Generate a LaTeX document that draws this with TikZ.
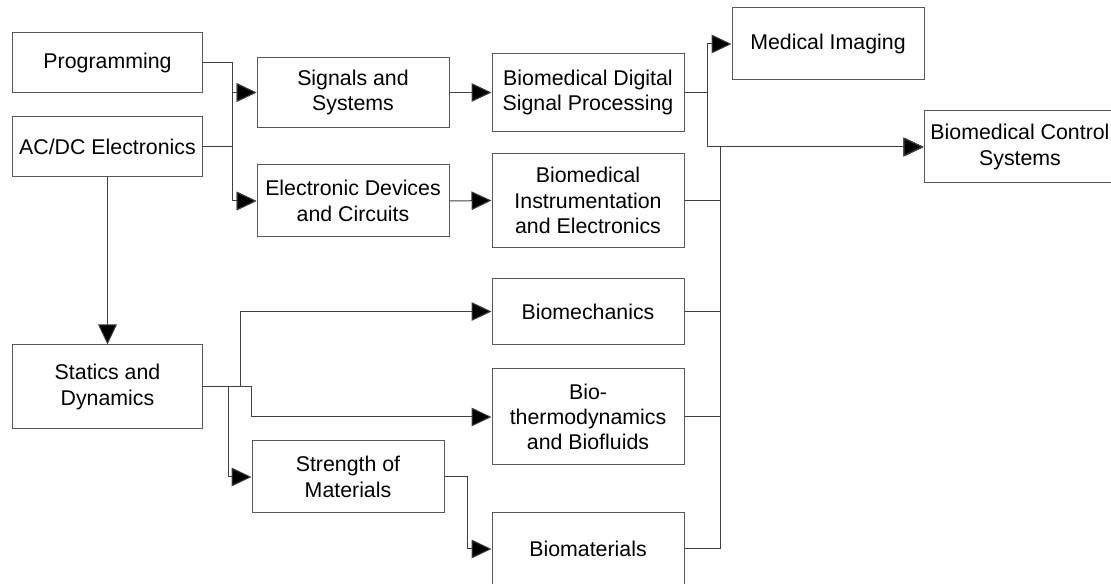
\documentclass[tikz,border=0pt]{standalone}
\usepackage{fontspec}
\setmainfont{Liberation Sans}
\usetikzlibrary{arrows.meta}

\tikzset{
  course/.style={draw=black!65, line width=0.75pt, rectangle, inner sep=0pt,
    align=center, minimum width=144pt, font=\fontsize{16}{19}\selectfont},
  link/.style={draw=black!75, line width=0.75pt,
    -{Triangle[length=15pt,width=14pt,fill=black]}}
}

\begin{document}
\begin{tikzpicture}[x=0.75pt,y=-0.75pt]

\useasboundingbox (0,0) rectangle (1111,584);

% first year
\node [course, minimum width=143pt, minimum height=45pt] (prog) at (107.5,63) {Programming};
\node [course, minimum width=143pt, minimum height=45pt] (acdc) at (107.5,147) {AC/DC Electronics};
\node [course, minimum width=143pt, minimum height=63pt] (stat) at (107.5,387) {Statics and\\Dynamics};

% second year
\node [course, minimum height=53pt] (sig) at (353,92.5) {Signals and\\Systems};
\node [course, minimum height=54pt] (edc) at (353,201) {Electronic Devices\\and Circuits};
\node [course, minimum height=54pt] (strength) at (348,477) {Strength of\\Materials};

% third year
\node [course, minimum height=58pt] (bdsp) at (588,92.5) {Biomedical Digital\\Signal Processing};
\node [course, minimum height=71pt] (bie) at (588,200.5) {Biomedical\\Instrumentation\\and Electronics};
\node [course, minimum height=50pt] (biomech) at (588,311.5) {Biomechanics};
\node [course, minimum height=72pt] (thermo) at (588,417) {Bio-\\thermodynamics\\and Biofluids};
\node [course, minimum height=54pt] (biomat) at (588,549) {Biomaterials};

% fourth year
\node [course, minimum height=54pt] (imaging) at (828,44) {Medical Imaging};
\node [course, minimum height=54pt] (control) at (1020,147) {Biomedical Control\\Systems};

% programming and electronics feed both second year courses
\foreach \a in {prog,acdc}
  \foreach \b in {sig,edc}
    \draw[link] (\a.east) -- ++(29,0) |- (\b.west);

\draw[link] (acdc.south) -- (stat.north);

\draw[link] (sig.east) -- (bdsp.west);
\draw[link] (edc.east) -- (bie.west);

% statics branches
\draw[link] (stat.east) -- ++(37,0) |- (biomech.west);
\draw[link] (stat.east) -- ++(48,0) |- (thermo.west);
\draw[link] (stat.east) -- ++(25,0) |- (strength.west);
\draw[link] (strength.east) -- ++(23,0) |- (biomat.west);

% dsp goes on to imaging and control
\draw[link] (bdsp.east) -- ++(23,0) |- (imaging.west);
\draw[link] (bdsp.east) -- ++(23,0) |- (control.west);

% everything else joins the bus into control systems
\foreach \c in {bie,biomech,thermo,biomat}
  \draw[link] (\c.east) -- ++(36,0) |- (control.west);

\end{tikzpicture}
\end{document}
